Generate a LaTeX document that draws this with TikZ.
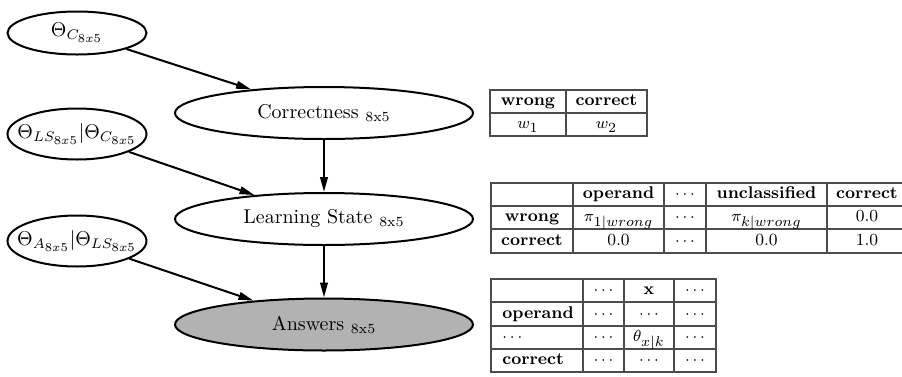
\documentclass[tikz,border=0pt]{standalone}
\usetikzlibrary{shapes.geometric,arrows.meta}
% larger script sizes for the labels and table entries
\DeclareMathSizes{10}{10}{7.5}{6}
\DeclareMathSizes{8.5}{8.5}{7}{5.5}
% centred label that does not enlarge the ellipse around it
\newcommand{\ovtext}[1]{\makebox[0pt]{#1}}
\tikzset{
  % one unit = one pixel of the 902 x 376 canvas, y pointing down
  px/.style={x=0.5pt,y=-0.5pt},
  bignode/.style={ellipse,draw,line width=1pt,minimum width=149pt,minimum height=26pt,inner sep=0pt,font=\fontsize{10}{12}\selectfont},
  parnode/.style={ellipse,draw,line width=1pt,minimum width=69.5pt,minimum height=21.5pt,inner sep=0pt,font=\fontsize{10}{12}\selectfont},
  edge/.style={line width=1pt,-{Triangle[length=7.5pt,width=3.8pt]}},
  grid/.style={draw=black!70,line width=0.6pt},
  tcell/.style={inner sep=0pt,text height=6pt,text depth=2pt,font=\fontsize{8.5}{10}\selectfont},
}
\begin{document}
\begin{tikzpicture}[px]
\useasboundingbox (0,0) rectangle (902,376);

% --- graphical model ---
\node[parnode] (thC) at (77,33) {\ovtext{$\Theta_{C_{8x5}}$}};
\node[parnode,minimum height=25.5pt] (thLS) at (77,134) {\ovtext{$\Theta_{LS_{8x5}}|\Theta_{C_{8x5}}$}};
\node[parnode,minimum height=25.5pt] (thA) at (77,241) {\ovtext{$\Theta_{A_{8x5}}|\Theta_{LS_{8x5}}$}};

\node[bignode] (corr) at (324,113) {\ovtext{Correctness $_{\mathrm{8x5}}$}};
\node[bignode] (ls) at (324,219) {\ovtext{Learning State $_{\mathrm{8x5}}$}};
\node[bignode,fill=black!30] (ans) at (324,324.5) {\ovtext{Answers $_{\mathrm{8x5}}$}};

\draw[edge] (thC) -- (corr);
\draw[edge] (thLS) -- (ls);
\draw[edge] (thA) -- (ans);
\draw[edge] (corr) -- (ls);
\draw[edge] (ls) -- (ans);

% --- table: prior of correctness ---
\draw[grid] (490,90) rectangle (647,136);
\draw[grid] (490,113) -- (647,113);
\draw[grid] (566,90) -- (566,136);
\node[tcell] (a11) at (528,101.5) {\bfseries wrong};
\node[tcell] (a12) at (606.5,101.5) {\bfseries correct};
\node[tcell] (a21) at (528,124.5) {$w_1$};
\node[tcell] (a22) at (606.5,124.5) {$w_2$};

% --- table: learning state given correctness ---
\draw[grid] (902,183) -- (491,183) -- (491,253) -- (902,253);
\draw[grid] (491,206) -- (902,206);
\draw[grid] (491,229) -- (902,229);
\foreach \cx in {573,664,706,827} \draw[grid] (\cx,183) -- (\cx,253);
\node[tcell] (b12) at (618.5,194.5) {\bfseries operand};
\node[tcell] (b13) at (685,194.5) {$\cdots$};
\node[tcell] (b14) at (766.5,194.5) {\bfseries unclassified};
\node[tcell] (b15) at (867,194.5) {\bfseries correct};
\node[tcell] (b21) at (532,217.5) {\bfseries wrong};
\node[tcell] (b22) at (618.5,217.5) {$\pi_{1|wrong}$};
\node[tcell] (b23) at (685,217.5) {$\cdots$};
\node[tcell] (b24) at (766.5,217.5) {$\pi_{k|wrong}$};
\node[tcell] (b25) at (867,217.5) {0.0};
\node[tcell] (b31) at (532,241) {\bfseries correct};
\node[tcell] (b32) at (618.5,241) {0.0};
\node[tcell] (b33) at (685,241) {$\cdots$};
\node[tcell] (b34) at (766.5,241) {0.0};
\node[tcell] (b35) at (867,241) {1.0};

% --- table: answers given learning state ---
\draw[grid] (491,279) rectangle (716,372);
\foreach \ry in {302,326,349} \draw[grid] (491,\ry) -- (716,\ry);
\foreach \cx in {583,624,674} \draw[grid] (\cx,279) -- (\cx,372);
\node[tcell] (c12) at (603.5,290.5) {$\cdots$};
\node[tcell] (c13) at (649,290.5) {\bfseries x};
\node[tcell] (c14) at (695,290.5) {$\cdots$};
\node[tcell,anchor=west] (c21) at (502,314) {\bfseries operand};
\node[tcell] (c22) at (603.5,314) {$\cdots$};
\node[tcell] (c23) at (649,314) {$\cdots$};
\node[tcell] (c24) at (695,314) {$\cdots$};
\node[tcell,anchor=west] (c31) at (502,337.5) {$\cdots$};
\node[tcell] (c32) at (603.5,337.5) {$\cdots$};
\node[tcell] (c33) at (649,337.5) {$\theta_{x|k}$};
\node[tcell] (c34) at (695,337.5) {$\cdots$};
\node[tcell,anchor=west] (c41) at (502,360.5) {\bfseries correct};
\node[tcell] (c42) at (603.5,360.5) {$\cdots$};
\node[tcell] (c43) at (649,360.5) {$\cdots$};
\node[tcell] (c44) at (695,360.5) {$\cdots$};
\end{tikzpicture}
\end{document}
